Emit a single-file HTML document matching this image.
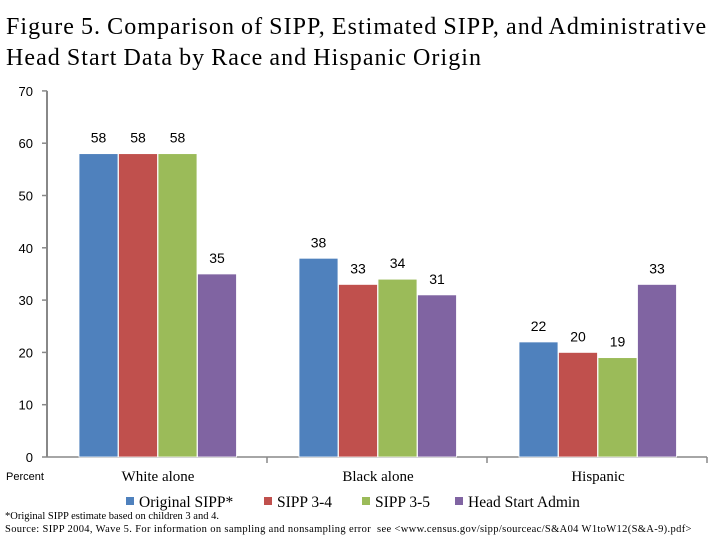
<!DOCTYPE html>
<html><head><meta charset="utf-8"><style>
body{margin:0;background:#fff;}
#c{position:relative;width:720px;height:540px;overflow:hidden;font-family:"Liberation Serif",serif;}
.t{position:absolute;white-space:nowrap;}
</style></head><body>
<div id="c">
<div class="t" style="left:6px;top:12px;font-size:24px;line-height:31px;letter-spacing:1.05px;word-spacing:-1px;">Figure 5. Comparison of SIPP, Estimated SIPP, and Administrative<br>Head Start Data by Race and Hispanic Origin</div>
<svg id="s" width="720" height="540" style="position:absolute;left:0;top:0"></svg>
<div class="t" style="left:6px;top:471px;font-family:'Liberation Sans',sans-serif;font-size:11px;">Percent</div>
<div class="t" style="left:5px;top:511px;font-size:10.5px;">*Original SIPP estimate based on children 3 and 4.</div>
<div class="t" style="left:5px;top:524px;font-size:10.5px;letter-spacing:0.35px;">Source: SIPP 2004, Wave 5. For information on sampling and nonsampling error&nbsp; see &lt;www.census.gov/sipp/sourceac/S&amp;A04 W1toW12(S&amp;A-9).pdf&gt;</div>
</div>
<script>
const categories=["White alone","Black alone","Hispanic"];
const seriesNames=["Original SIPP*","SIPP 3-4","SIPP 3-5","Head Start Admin"];
const original=[58,38,22];
const sipp34=[58,33,20];
const sipp35=[58,34,19];
const admin=[35,31,33];
const yTicks=[0,10,20,30,40,50,60,70];
const colors=["#4f81bd","#c0504d","#9bbb59","#8064a2"];
const series=[original,sipp34,sipp35,admin];
const NS="http://www.w3.org/2000/svg";
const svg=document.getElementById('s');
const x0=47,cw=220,y0=457,k=5.23;
const y=v=>y0-v*k;
function el(t,a){const e=document.createElementNS(NS,t);for(const n in a)e.setAttribute(n,a[n]);svg.appendChild(e);return e;}
let ax=el('line',{x1:x0,y1:y(70),x2:x0,y2:y0,stroke:'#888','stroke-width':2});


yTicks.forEach(v=>{
 let l=el('line',{x1:x0-5,x2:x0,y1:y(v),y2:y(v),stroke:'#888','stroke-width':1.5});
 
 
 let t=el('text',{x:x0-14,y:y(v)+5,'text-anchor':'end','font-family':'Liberation Sans,sans-serif','font-size':13});
 t.textContent=v;
 
 
});
let xa=el('line',{x1:x0,y1:y0,x2:x0+cw*categories.length,y2:y0,stroke:'#888','stroke-width':1.5});


categories.forEach((c,i)=>{
 let tk=el('line',{x1:x0+cw*(i+1),x2:x0+cw*(i+1),y1:y0,y2:y0+6,stroke:'#888','stroke-width':1.5});
 
 
 let t=el('text',{x:x0+cw*i+cw/2+1,y:481,'text-anchor':'middle','font-family':'Liberation Serif,serif','font-size':15});
 t.textContent=c;
 
 
 series.forEach((s,j)=>{
  const bx=x0+cw*i+32+j*39.5;
  let r=el('rect',{x:bx,y:y(s[i]),width:39,height:s[i]*k,fill:colors[j],stroke:'#fff','stroke-width':0.8});
  
  
  let lb=el('text',{x:bx+19.5,y:y(s[i])-11,'text-anchor':'middle','font-family':'Liberation Sans,sans-serif','font-size':14});
  lb.textContent=s[i];
  
  
 });
});
const lx=[126,264,362,455];
seriesNames.forEach((n,j)=>{
 let r=el('rect',{x:lx[j],y:497,width:8,height:8,fill:colors[j]});
 
 
 let t=el('text',{x:lx[j]+13,y:507,'font-family':'Liberation Serif,serif','font-size':15.5});
 t.textContent=n;
 
 
});
</script>
</body></html>
